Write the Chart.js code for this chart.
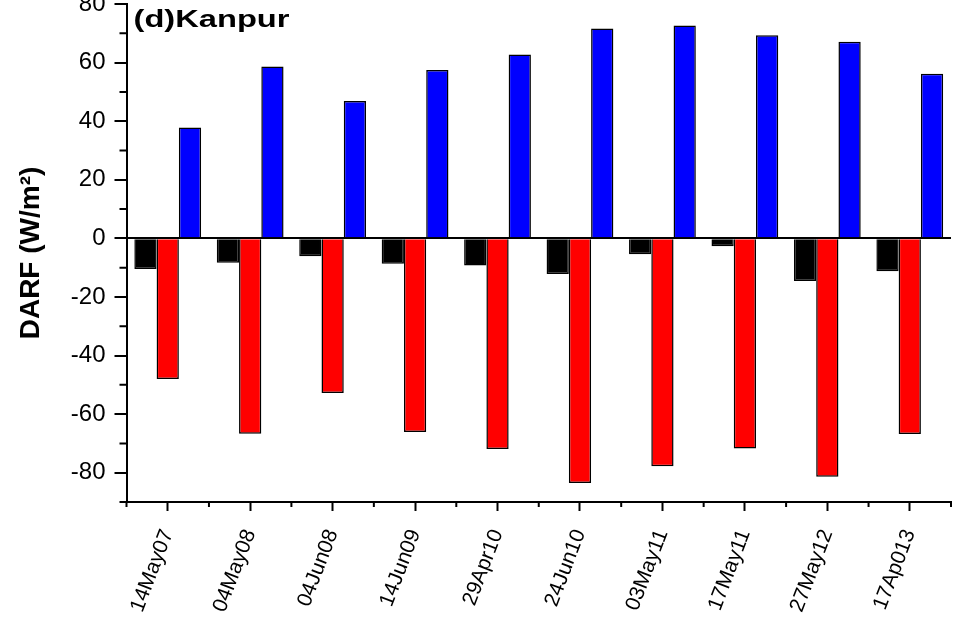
<!DOCTYPE html>
<html>
<head>
<meta charset="utf-8">
<title>DARF Kanpur</title>
<script src="https://cdn.jsdelivr.net/npm/chart.js@4.4.1/dist/chart.umd.min.js"></script>
<style>
  html, body { margin: 0; padding: 0; background: #fff; }
  #wrap { position: relative; width: 961px; height: 627px; overflow: hidden; }
  #wrap canvas { position: absolute; left: 0; top: -30px; }
</style>
</head>
<body>
<div id="wrap"><canvas id="darf" width="961" height="657"></canvas></div>
<script>
// observation dates and forcing values (W/m2)
var dates = ['14May07', '04May08', '04Jun08', '14Jun09', '29Apr10', '24Jun10', '03May11', '17May11', '27May12', '17Ap013'];
var darfBlack = [-10.5, -8.3, -6.1, -8.7, -9.3, -12.2, -5.4, -2.7, -14.6, -11.2];
var darfRed = [-48.0, -66.7, -52.8, -66.1, -71.9, -83.5, -77.8, -71.7, -81.4, -66.8];
var darfBlue = [37.8, 58.7, 46.9, 57.5, 62.8, 71.6, 72.7, 69.3, 67.1, 56.2];
var yTicks = [-80, -60, -40, -20, 0, 20, 40, 60, 80];
var yMinorTicks = [-70, -50, -30, -10, 10, 30, 50, 70];

// minor ticks on both axes plus the panel label
var extras = {
    id: 'extras',
    afterDraw: function (chart) {
        var ctx = chart.ctx;
        var xs = chart.scales.x, ys = chart.scales.y, area = chart.chartArea;
        ctx.save();
        ctx.strokeStyle = '#000';
        ctx.lineWidth = 2;
        ctx.beginPath();
        yMinorTicks.forEach(function (v) {
            var py = ys.getPixelForValue(v);
            ctx.moveTo(area.left - 7, py);
            ctx.lineTo(area.left, py);
        });
        for (var i = 0; i <= dates.length; i++) {
            var px = xs.getPixelForValue(i - 0.5);
            ctx.moveTo(px, area.bottom);
            ctx.lineTo(px, area.bottom + 5);
        }
        // axes run a little past the corner
        ctx.moveTo(area.left - 7, area.bottom);
        ctx.lineTo(area.left, area.bottom);
        ctx.moveTo(area.left, area.bottom);
        ctx.lineTo(area.left, area.bottom + 4);
        ctx.stroke();

        ctx.fillStyle = '#000';
        ctx.font = 'bold 23px "Liberation Sans"';
        ctx.textBaseline = 'alphabetic';
        ctx.translate(area.left + 7, area.top + 23);
        ctx.scale(1.42, 1);
        ctx.fillText('(d)Kanpur', 0, 0);
        ctx.restore();
    }
};

var barData = {
    labels: dates,
    datasets: [
        { data: darfBlack, backgroundColor: '#000000' },
        { data: darfRed, backgroundColor: '#ff0000' },
        { data: darfBlue, backgroundColor: '#0000ff' }
    ]
};
barData.datasets.forEach(function (ds) {
    ds.borderColor = '#000';
    ds.borderWidth = 1.5;
    ds.barPercentage = 1;
    ds.categoryPercentage = 0.81;
});

var ctx = document.getElementById('darf');
var chart = new Chart(ctx, {
    type: 'bar',
    data: barData,
    plugins: [extras],
    options: {
        responsive: false,
        animation: false,
        layout: { padding: { top: 34, right: 10, left: 0, bottom: 0 } },
        plugins: { legend: { display: false }, tooltip: { enabled: false } },
        scales: {
            x: {
                offset: true,
                afterFit: function (axis) { axis.height = 125; },
                border: { color: '#000', width: 2 },
                grid: { drawOnChartArea: false, offset: false, tickColor: '#000', tickLength: 9, tickWidth: 2 },
                ticks: {
                    color: '#000', autoSkip: false, minRotation: 69, maxRotation: 69, padding: 15,
                    font: { family: 'Liberation Sans', size: 21 }
                }
            },
            y: {
                min: -90,
                max: 80,
                afterBuildTicks: function (axis) {
                    axis.ticks = yTicks.map(function (v) { return { value: v }; });
                },
                afterFit: function (axis) { axis.width = 126.5; },
                border: { color: '#000', width: 2 },
                grid: {
                    color: function (c) { return c.tick && c.tick.value === 0 ? '#000' : 'rgba(0,0,0,0)'; },
                    lineWidth: 2, tickColor: '#000', tickLength: 12, tickWidth: 2
                },
                ticks: { color: '#000', padding: 9, font: { family: 'Liberation Sans', size: 24 } },
                title: {
                    display: true, text: 'DARF (W/m²)', color: '#000',
                    font: { family: 'Liberation Sans', size: 28, weight: 'bold' },
                    padding: { top: 14, bottom: 0 }
                }
            }
        }
    }
});
</script>
</body>
</html>
